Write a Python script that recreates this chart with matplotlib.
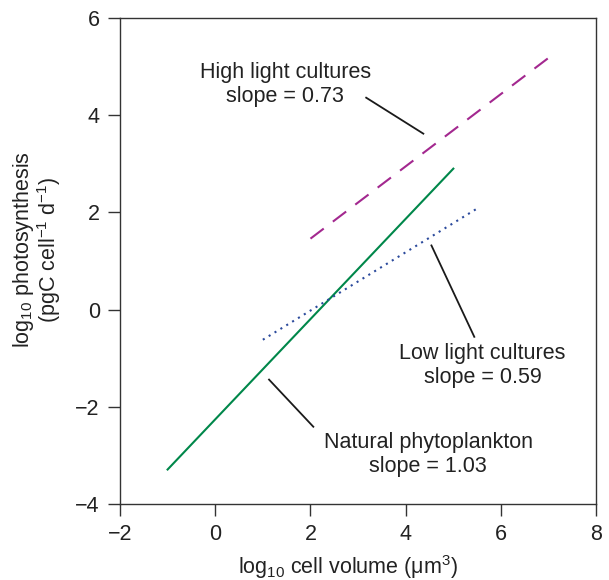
import matplotlib
matplotlib.use("Agg")
import matplotlib.pyplot as plt

plt.rcParams["font.family"] = ["Liberation Sans", "DejaVu Sans"]
plt.rcParams["mathtext.fontset"] = "custom"
plt.rcParams["mathtext.rm"] = "Liberation Sans"
plt.rcParams["mathtext.it"] = "Liberation Sans:italic"

# fitted lines (log10 cell volume -> log10 photosynthesis)
natural_x = [-1.0, 5.0]
natural_y = [-3.29, 2.90]
high_x = [2.0, 7.0]
high_y = [1.46, 5.18]
low_x = [1.0, 5.5]
low_y = [-0.62, 2.08]

labels = ["High light cultures\nslope = 0.73",
          "Low light cultures\nslope = 0.59",
          "Natural phytoplankton\nslope = 1.03"]
label_xy = [(1.47, 4.63), (5.61, -1.15), (4.47, -2.98)]
leader_x = [[3.17, 4.37], [4.54, 5.44], [1.13, 2.06]]
leader_y = [[4.36, 3.62], [1.32, -0.56], [-1.44, -2.41]]

xticks = [-2, 0, 2, 4, 6, 8]
yticks = [-4, -2, 0, 2, 4, 6]

fig = plt.figure(figsize=(6.09, 5.80), dpi=100)
ax = fig.add_axes([0.197, 0.131, 0.782, 0.838])

ax.plot(natural_x, natural_y, color="#00874a", lw=1.5)
ax.plot(high_x, high_y, color="#a3288f", lw=1.5, linestyle=(0, (8, 5.5)))
ax.plot(low_x, low_y, color="#2b4a9c", lw=1.5, linestyle=(0, (1, 2.3)))

for lx, ly in zip(leader_x, leader_y):
    ax.plot(lx, ly, color="#1a1a1a", lw=1.3)
for txt, (tx, ty) in zip(labels, label_xy):
    ax.text(tx, ty, txt, ha="center", va="center", fontsize=15.5,
            color="#222222", linespacing=1.15)

ax.set_xlim(-2, 8)
ax.set_ylim(-4, 6)
ax.set_xticks(xticks)
ax.set_yticks(yticks)
ax.set_xticklabels([str(t).replace("-", "\u2212") for t in xticks])
ax.set_yticklabels([str(t).replace("-", "\u2212") for t in yticks])
ax.tick_params(direction="out", length=8.5, width=1, colors="#333333",
               labelsize=15.5, labelcolor="#222222", pad=6)
for sp in ax.spines.values():
    sp.set_color("#333333")
    sp.set_linewidth(1)

ax.set_xlabel(r"log$_{10}$ cell volume ($\mathrm{\mu}$m$^{3}$)", fontsize=15.5,
              color="#222222", va="center")
ax.xaxis.set_label_coords(0.479, -0.13)
ax.set_ylabel("log$_{10}$ photosynthesis\n(pgC cell$^{\u22121}$ d$^{\u22121}$)",
              fontsize=15.5, color="#222222", va="center", linespacing=0.95)
ax.yaxis.set_label_coords(-0.174, 0.523)

fig.savefig("out.png", dpi=100)
